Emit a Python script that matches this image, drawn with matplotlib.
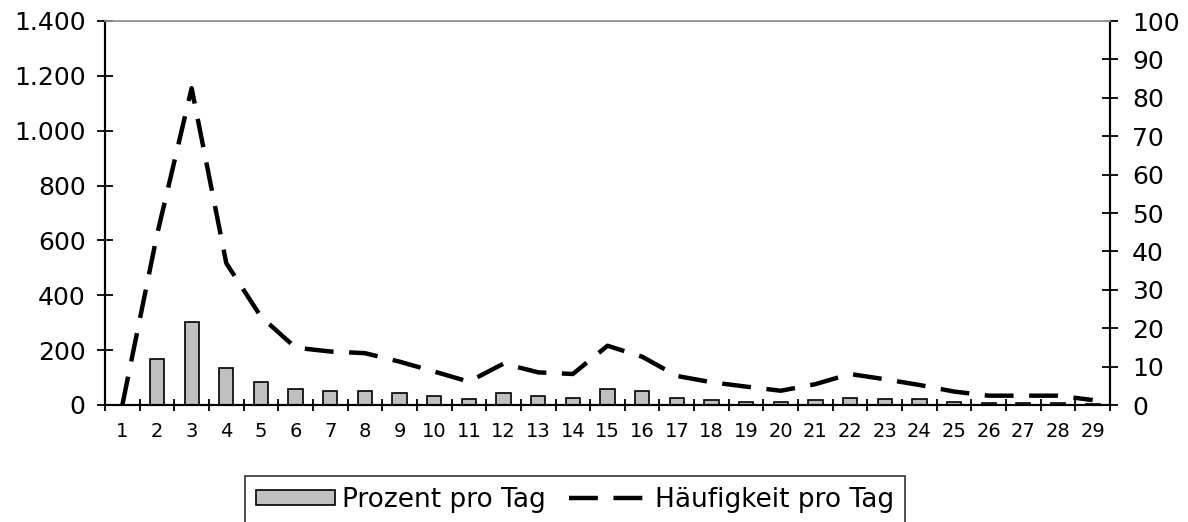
import matplotlib
matplotlib.use('Agg')
import matplotlib.pyplot as plt
import numpy as np

plt.rcParams['font.family'] = ['DejaVu Sans']

days = list(range(1, 30))
# Häufigkeit pro Tag (left axis)
haeufigkeit = [0, 620, 1155, 517, 322, 209, 195, 189, 158, 122, 85, 151, 119, 113,
               216, 176, 106, 83, 67, 52, 76, 113, 94, 73, 49, 34, 34, 34, 18]
# Prozent pro Tag (right axis)
prozent = [0, 12.0, 21.7, 9.7, 6.1, 4.2, 3.6, 3.6, 3.0, 2.4, 1.5, 3.0, 2.4, 1.9,
           4.1, 3.6, 1.9, 1.4, 0.9, 0.9, 1.4, 1.9, 1.5, 1.5, 0.9, 0.4, 0.4, 0.4, 0.3]
left_ticks = [0, 200, 400, 600, 800, 1000, 1200, 1400]
left_labels = ['0', '200', '400', '600', '800', '1.000', '1.200', '1.400']
right_ticks = list(range(0, 101, 10))


def draw(path='out.png'):
    fig = plt.figure(figsize=(11.88, 5.22), dpi=100)
    ax = fig.add_axes([105 / 1188, 117 / 522, 1005 / 1188, 384 / 522])
    ax2 = ax.twinx()

    bars = ax2.bar(days, prozent, width=0.41, color='#c0c0c0', edgecolor='black',
                   linewidth=1.2, label='Prozent pro Tag')
    line, = ax.plot(days, haeufigkeit, color='black', lw=3.2,
                    linestyle=(0, (6.5, 3.5)), label='Häufigkeit pro Tag')
    ax.set_zorder(ax2.get_zorder() + 1)
    ax.patch.set_visible(False)

    ax.set_xlim(0.5, 29.5)
    ax.set_ylim(0, 1400)
    ax2.set_ylim(0, 100)

    ax.set_yticks(left_ticks)
    ax.set_yticklabels(left_labels)
    ax2.set_yticks(right_ticks)

    ax.set_xticks(days)
    ax.set_xticklabels([str(d) for d in days], fontsize=14)
    ax.set_xticks(np.arange(0.5, 30, 1), minor=True)
    ax.tick_params(axis='x', which='major', length=0, pad=12)
    ax.tick_params(axis='x', which='minor', direction='inout', length=9, width=1.3)
    ax.tick_params(axis='y', direction='inout', length=12, width=1.3, labelsize=18, pad=8)
    ax2.tick_params(axis='y', direction='inout', length=12, width=1.3, labelsize=18, pad=10)
    ax2.tick_params(axis='x', which='both', length=0)

    for a in (ax, ax2):
        for s in ('left', 'right', 'bottom'):
            a.spines[s].set_linewidth(1.5)
            a.spines[s].set_color('black')
        a.spines['top'].set_color('#999999')
        a.spines['top'].set_linewidth(1.2)

    leg = fig.legend([bars, line], ['Prozent pro Tag', 'Häufigkeit pro Tag'],
                     loc='upper center', bbox_to_anchor=(575 / 1188, 1 - 476 / 522),
                     ncol=2, fontsize=19, frameon=True, fancybox=False,
                     handlelength=3.0, handleheight=0.5, columnspacing=0.9,
                     handletextpad=0.25, borderpad=0.4, borderaxespad=0)
    leg.get_frame().set_edgecolor('black')
    leg.get_frame().set_linewidth(1.2)

    fig.savefig(path, dpi=100)


if __name__ == '__main__':
    draw()
